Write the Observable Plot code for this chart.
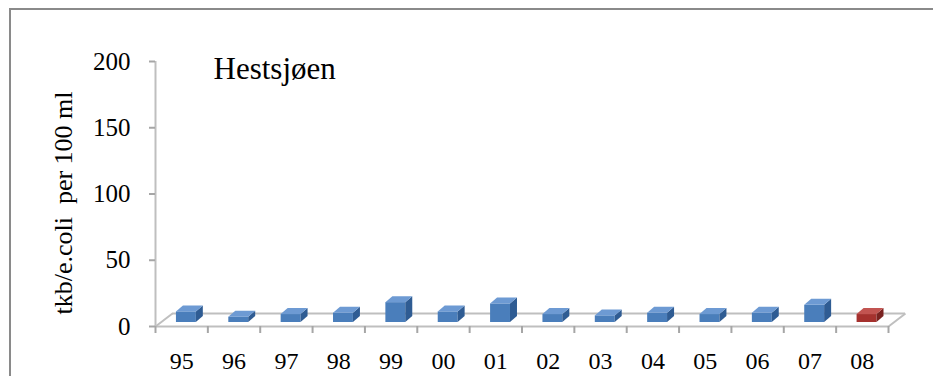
<!DOCTYPE html>
<html>
<head>
<meta charset="utf-8">
<script src="https://cdn.jsdelivr.net/npm/d3@7"></script>
<script src="https://cdn.jsdelivr.net/npm/@observablehq/plot@0.6"></script>
<style>
  body { margin: 0; background: #fff; }
  #wrap { position: relative; width: 933px; height: 376px; overflow: hidden; }
  #border { position: absolute; left: 9px; top: 8px; width: 1000px; height: 500px; border: 2px solid #8a8a8a; box-sizing: border-box; }
  #chart { position: absolute; left: 0; top: 0; }
</style>
</head>
<body>
<div id="wrap"><div id="border"></div><div id="chart"></div></div>
<script>
// Data
const years = ["95", "96", "97", "98", "99", "00", "01", "02", "03", "04", "05", "06", "07", "08"];
const values = [8, 4, 6, 7, 15, 8, 14, 6, 5, 7, 6, 7, 13, 6];
const current = [false, false, false, false, false, false, false, false, false, false, false, false, false, true];
const yTicks = [0, 50, 100, 150, 200];
const title = "Hestsjøen";
const yLabel = "tkb/e.coli\u00a0 per 100 ml";

// Layout
const W = 933, H = 376;
const mL = 155, mR = 45, mT = 61, mB = 50;
const n = years.length;
const pxPerX = (W - mL - mR) / n;
const pxPerY = (H - mT - mB) / 200;
// floor depth (px) -> data units
const floorDX = 17 / pxPerX, floorDY = 13 / pxPerY;
// bar depth (px) -> data units
const barDX = 7 / pxPerX, barDY = 6 / pxPerY;
const barL = 0.40, barR = 0.78;

const rows = years.map((y, i) => ({i, year: y, v: values[i], cur: current[i]}));
const cols = {
  blue: {front: "#4a7ebb", top: "#6d9ad3", side: "#2f5c93"},
  red: {front: "#a5312e", top: "#c25451", side: "#7a2220"}
};
const pal = d => d.cur ? cols.red : cols.blue;

const sidePts = rows.flatMap(d => [
  {i: d.i, c: pal(d).side, x: d.i + barR, y1: 0, y2: d.v},
  {i: d.i, c: pal(d).side, x: d.i + barR + barDX, y1: barDY, y2: d.v + barDY}
]);
const topPts = rows.flatMap(d => [
  {i: d.i, c: pal(d).top, y: d.v, x1: d.i + barL, x2: d.i + barR},
  {i: d.i, c: pal(d).top, y: d.v + barDY, x1: d.i + barL + barDX, x2: d.i + barR + barDX}
]);

const grey = "#bfbfbf";
const font = "'Liberation Serif', 'Times New Roman', serif";

const chart = Plot.plot({
  width: W, height: H,
  marginLeft: mL, marginRight: mR, marginTop: mT, marginBottom: mB,
  style: {fontFamily: font, background: "transparent", overflow: "visible"},
  x: {type: "linear", domain: [0, n], axis: null},
  y: {domain: [0, 200], axis: null},
  marks: [
    // floor
    Plot.ruleY([0], {stroke: grey, strokeWidth: 2, dx: 17, dy: -13}),
    Plot.link([0, n], {x1: d => d, y1: 0, x2: d => d + floorDX, y2: floorDY, stroke: grey, strokeWidth: 2}),
    // bars
    Plot.rect(rows, {x1: d => d.i + barL, x2: d => d.i + barR, y1: 0, y2: "v", fill: d => pal(d).front, dy: -4}),
    Plot.areaY(sidePts, {x: "x", y1: "y1", y2: "y2", z: "i", fill: "c", dy: -4}),
    Plot.areaX(topPts, {y: "y", x1: "x1", x2: "x2", z: "i", fill: "c", dy: -4}),
    // front floor edge / x axis
    Plot.ruleY([0], {stroke: grey, strokeWidth: 2}),
    Plot.axisX({ticks: d3.range(n + 1), tickSize: 7, tickFormat: () => "", stroke: "#a6a6a6", strokeWidth: 2}),
    Plot.axisX({ticks: d3.range(n).map(i => i + 0.5), tickSize: 0, tickPadding: 25, tickFormat: d => years[Math.floor(d)], fontSize: 24, fill: "black", label: null}),
    // y axis
    Plot.ruleX([0], {stroke: grey, strokeWidth: 2}),
    Plot.axisY({ticks: yTicks, tickSize: 6, tickPadding: 19, fontSize: 25, fill: "black", stroke: "#a6a6a6", strokeWidth: 2, label: null}),
    // texts
    Plot.text([title], {frameAnchor: "top-left", text: d => d, textAnchor: "start", lineAnchor: "bottom", dx: 58, dy: 17, fontSize: 31, fill: "black"}),
    Plot.text([yLabel], {frameAnchor: "left", text: d => d, rotate: -90, textAnchor: "middle", dx: -92, dy: 9, fontSize: 26, fill: "black"})
  ]
});
document.getElementById("chart").append(chart);
</script>
</body>
</html>
